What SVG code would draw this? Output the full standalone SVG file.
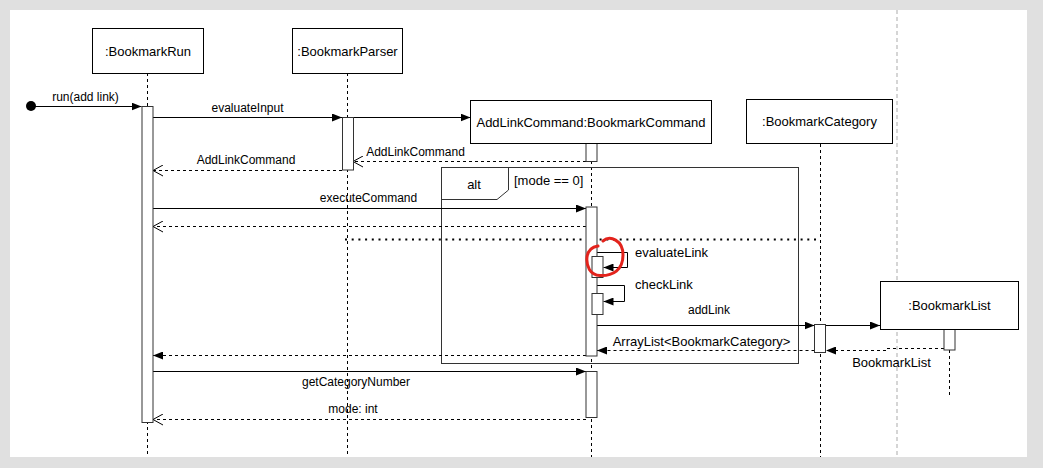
<svg xmlns="http://www.w3.org/2000/svg" width="1043" height="468" viewBox="0 0 1043 468">
  <style>
    text { font-family: "Liberation Sans", Arial, Helvetica, sans-serif; fill: #000; }
    .lbl { font-size: 12px; }
    .lbl13 { font-size: 13px; }
    .name { font-size: 13px; text-anchor: middle; }
    .mid { text-anchor: middle; }
    .box { fill: #fff; stroke: #000; stroke-width: 1; }
    .act { fill: #fff; stroke: #333; stroke-width: 1; }
    .life { stroke: #000; stroke-width: 1; stroke-dasharray: 3 3; fill: none; }
    .msg { stroke: #000; stroke-width: 1; fill: none; marker-end: url(#solid); }
    .ret { stroke: #000; stroke-width: 1; stroke-dasharray: 3 3; fill: none; marker-end: url(#open); }
    .ret2 { stroke: #000; stroke-width: 1; stroke-dasharray: 3 3; fill: none; marker-end: url(#solid); }
  </style>
  <defs>
    <marker id="solid" viewBox="0 0 10 8" refX="10" refY="4" markerWidth="10" markerHeight="8" markerUnits="userSpaceOnUse" orient="auto">
      <path d="M0,0 L10,4 L0,8 z" fill="#000"/>
    </marker>
    <marker id="open" viewBox="0 0 10 12" refX="10" refY="6" markerWidth="10" markerHeight="12" markerUnits="userSpaceOnUse" orient="auto">
      <path d="M0,0.5 L10,6 L0,11.5" fill="none" stroke="#000" stroke-width="1"/>
    </marker>
  </defs>

  <!-- page -->
  <rect x="0" y="0" width="1043" height="468" fill="#e0e0e0"/>
  <rect x="10" y="10" width="1017" height="447" fill="#fff"/>
  <line x1="897" y1="10" x2="897" y2="457" stroke="#c8c8c8" stroke-width="1.5" stroke-dasharray="4 3"/>

  <!-- lifelines -->
  <g id="lifelines">
    <line class="life" x1="147.5" y1="73" x2="147.5" y2="457"/>
    <line class="life" x1="347.5" y1="73" x2="347.5" y2="457"/>
    <line class="life" x1="591.5" y1="143" x2="591.5" y2="457"/>
    <line class="life" x1="820.5" y1="144" x2="820.5" y2="457"/>
    <line class="life" x1="949.5" y1="350" x2="949.5" y2="398"/>
  </g>

  <!-- alt fragment -->
  <g id="alt-frame">
    <rect x="441.5" y="167.5" width="357" height="196" fill="none" stroke="#333" stroke-width="1"/>
    <path d="M441.5,199.5 H497 L508.5,190 V167.5" fill="none" stroke="#333" stroke-width="1"/>
    <text class="name" x="474" y="189">alt</text>
    <text class="lbl13" x="514" y="184.5">[mode == 0]</text>
  </g>

  <!-- connectors -->
  <g id="connectors">
    <circle cx="31" cy="106" r="5" fill="#000"/>
    <line class="msg" x1="31" y1="106.5" x2="141.5" y2="106.5"/>
    <text class="lbl mid" x="85.5" y="101">run(add link)</text>

    <line class="msg" x1="153" y1="117.5" x2="342" y2="117.5"/>
    <text class="lbl mid" x="247.5" y="112">evaluateInput</text>

    <line class="msg" x1="353" y1="117.5" x2="470.5" y2="117.5"/>

    <line class="ret" x1="586" y1="161.5" x2="353" y2="161.5"/>
    <text class="lbl mid" x="415.5" y="156">AddLinkCommand</text>

    <line class="ret" x1="342" y1="170.5" x2="153" y2="170.5"/>
    <text class="lbl mid" x="246" y="164">AddLinkCommand</text>

    <line class="msg" x1="153" y1="208.5" x2="586" y2="208.5"/>
    <text class="lbl mid" x="368.5" y="202">executeCommand</text>

    <line class="ret" x1="586" y1="226.5" x2="153" y2="226.5"/>

    <line x1="345" y1="239.5" x2="820" y2="239.5" stroke="#000" stroke-width="2" stroke-dasharray="2 4.7"/>

    <path class="msg" d="M597,252.5 H627.5 V267.5 H603.5"/>
    <text class="lbl13" x="635" y="256.5">evaluateLink</text>

    <path class="msg" d="M597,285.5 H624.5 V301.5 H603.5"/>
    <text class="lbl13" x="635" y="288.5">checkLink</text>

    <line class="msg" x1="597" y1="325.5" x2="814.5" y2="325.5"/>
    <text class="lbl mid" x="709" y="314">addLink</text>

    <line class="msg" x1="825.5" y1="325.5" x2="880" y2="325.5"/>

    <path class="ret2" d="M944,348.5 H886 M886,350.5 H826"/>
    <text class="lbl13 mid" x="891.5" y="366.5">BookmarkList</text>

    <line class="ret2" x1="814.5" y1="350.5" x2="597" y2="350.5"/>
    <text class="lbl13 mid" x="701.5" y="345.5">ArrayList&lt;BookmarkCategory&gt;</text>

    <line class="ret2" x1="586" y1="355.5" x2="153" y2="355.5"/>

    <line class="msg" x1="153" y1="371.5" x2="586" y2="371.5"/>
    <text class="lbl mid" x="356" y="386">getCategoryNumber</text>

    <line class="ret" x1="586" y1="419.5" x2="153" y2="419.5"/>
    <text class="lbl mid" x="353" y="413">mode: int</text>
  </g>

  <!-- activations -->
  <g id="activations">
    <rect class="act" x="142" y="106.5" width="11" height="316"/>
    <rect class="act" x="342.5" y="117.5" width="11" height="52.5"/>
    <rect class="act" x="586" y="143" width="11" height="18.5"/>
    <rect class="act" x="586" y="207" width="11" height="149"/>
    <rect class="act" x="592" y="256.5" width="11" height="21"/>
    <rect class="act" x="592" y="293.5" width="11" height="21"/>
    <rect class="act" x="814.5" y="324.5" width="11" height="28"/>
    <rect class="act" x="944" y="329" width="11" height="21"/>
    <rect class="act" x="586" y="371.5" width="11" height="46"/>
  </g>

  <!-- participants -->
  <g id="bookmark-run">
    <rect class="box" x="92.5" y="28.5" width="111" height="45"/>
    <text class="name" x="148" y="55.5">:BookmarkRun</text>
  </g>
  <g id="bookmark-parser">
    <rect class="box" x="292.5" y="28.5" width="110" height="45"/>
    <text class="name" x="347.5" y="55.5">:BookmarkParser</text>
  </g>
  <g id="add-link-command">
    <rect class="box" x="470.5" y="100.5" width="241" height="43"/>
    <text class="name" x="591" y="126.5">AddLinkCommand:BookmarkCommand</text>
  </g>
  <g id="bookmark-category">
    <rect class="box" x="746.5" y="99.5" width="146" height="44"/>
    <text class="name" x="819.5" y="126">:BookmarkCategory</text>
  </g>
  <g id="bookmark-list">
    <rect class="box" x="880.5" y="281.5" width="138" height="48"/>
    <text class="name" x="949.5" y="310">:BookmarkList</text>
  </g>

  <!-- red hand-drawn highlight -->
  <path d="M603,241 C610,235 623,240 623,255 C623,270 613,276 600,275.5 C590,275 586,266 587,257 C588,250 592,247 598,246" fill="none" stroke="#e3231c" stroke-width="3" stroke-linecap="round"/>
</svg>
